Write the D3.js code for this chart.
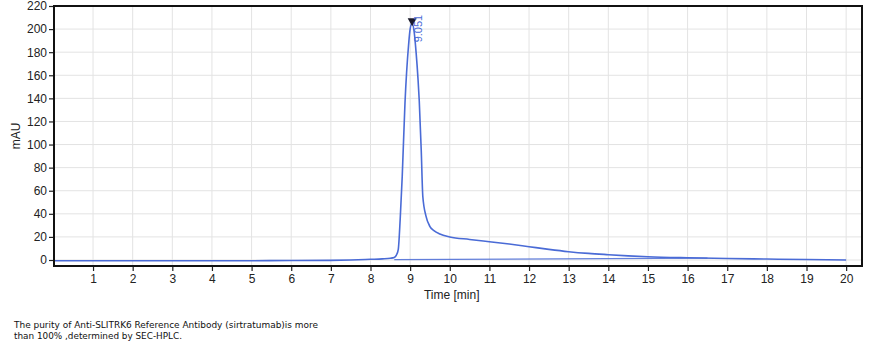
<!DOCTYPE html>
<html>
<head>
<meta charset="utf-8">
<script src="https://cdn.jsdelivr.net/npm/d3@7"></script>
<style>
  html, body { margin: 0; padding: 0; background: #fff; }
  svg { display: block; }
</style>
</head>
<body>
<svg id="chart" width="874" height="350"></svg>
<script>
// ---- data ----
const timeMin = [0, 1, 2, 3, 4, 5, 6, 7, 7.5, 8, 8.3, 8.5, 8.6, 8.65, 8.7, 8.75, 8.8, 8.87, 8.96, 9.0, 9.05, 9.1, 9.15, 9.2, 9.23, 9.28, 9.32, 9.4, 9.5, 9.6, 9.75, 10, 10.5, 11, 11.5, 12, 12.5, 13, 13.5, 14, 14.5, 15, 16, 17, 18, 19, 20];
const mAU     = [-0.6, -0.6, -0.6, -0.6, -0.6, -0.6, -0.5, -0.3, 0, 0.6, 1.0, 1.5, 2.2, 4, 9, 36, 72, 136, 186, 200, 205, 198, 180, 156, 138, 95, 55, 38, 29, 25.5, 22.5, 20, 17.8, 15.8, 13.8, 11.5, 9.2, 7.2, 5.7, 4.6, 3.6, 2.8, 1.9, 1.3, 0.8, 0.4, 0];
const baselineT = [8.6, 16.5];
const baselineV = [0.3, 1.6];
const xTicks = [1,2,3,4,5,6,7,8,9,10,11,12,13,14,15,16,17,18,19,20];
const yTicks = [0,20,40,60,80,100,120,140,160,180,200,220];
const peakTime = 9.051;
const peakValue = 205;
const peakLabel = "9.051";
const xTitle = "Time [min]";
const yTitle = "mAU";
const caption = ["The purity of Anti-SLITRK6 Reference Antibody (sirtratumab)is more",
                 "than 100% ,determined by SEC-HPLC."];

// ---- layout ----
const svg = d3.select("#chart");
const pL = 54, pR = 862, pT = 6, pB = 266;
const x = d3.scaleLinear().domain([0, 20.4]).range([pL - 0.6, pR]);
const y = d3.scaleLinear().domain([-5.2, 220]).range([pB, pT]);
const font = "'Liberation Sans', Arial, sans-serif";
const blue = "#4a6bd6";

// grid
const g = svg.append("g");
g.selectAll("line.vg").data(xTicks).enter().append("line")
  .attr("x1", d => x(d)).attr("x2", d => x(d))
  .attr("y1", pT).attr("y2", pB)
  .attr("stroke", "#e3e3e3").attr("stroke-width", 1);
g.selectAll("line.hg").data(yTicks).enter().append("line")
  .attr("x1", pL).attr("x2", pR)
  .attr("y1", d => y(d)).attr("y2", d => y(d))
  .attr("stroke", "#e3e3e3").attr("stroke-width", 1);

// axes
const xAxis = d3.axisBottom(x).tickValues(xTicks).tickSize(5).tickPadding(3).tickFormat(d3.format("d"));
const yAxis = d3.axisLeft(y).tickValues(yTicks).tickSize(5).tickPadding(2).tickFormat(d3.format("d"));
const gx = svg.append("g").attr("transform", `translate(0,${pB})`).call(xAxis);
const gy = svg.append("g").attr("transform", `translate(${pL},0)`).call(yAxis);
[gx, gy].forEach(a => {
  a.select(".domain").remove();
  a.selectAll("line").attr("stroke", "#222").attr("stroke-width", 1.2);
  a.selectAll("text").attr("font-family", font).attr("font-size", 12).attr("fill", "#222");
});

// trace
const line = d3.line().x((d, i) => x(timeMin[i])).y(d => y(d)).curve(d3.curveMonotoneX);
svg.append("path").datum(mAU).attr("d", line)
  .attr("fill", "none").attr("stroke", blue).attr("stroke-width", 1.6);

// integration baseline
svg.append("line")
  .attr("x1", x(baselineT[0])).attr("y1", y(baselineV[0]))
  .attr("x2", x(baselineT[1])).attr("y2", y(baselineV[1]))
  .attr("stroke", blue).attr("stroke-width", 1.2).attr("opacity", 0.85);

// frame
svg.append("rect").attr("x", pL).attr("y", pT)
  .attr("width", pR - pL).attr("height", pB - pT)
  .attr("fill", "none").attr("stroke", "#111").attr("stroke-width", 2);

// peak marker
const px = x(peakTime), py = y(peakValue) - 1;
svg.append("path")
  .attr("d", `M${px - 4.5},${py - 4} L${px + 4.5},${py - 4} L${px},${py + 4} Z`)
  .attr("fill", "#1a1a2a");
svg.append("text")
  .attr("transform", `translate(${px + 10},${py + 20}) rotate(-90)`)
  .attr("font-family", font).attr("font-size", 11).attr("fill", blue)
  .text(peakLabel);

// titles
svg.append("text").attr("x", (x(0) + x(20.4)) / 2 - 6).attr("y", 299)
  .attr("text-anchor", "middle").attr("font-family", font).attr("font-size", 12).attr("fill", "#222")
  .text(xTitle);
svg.append("text").attr("transform", `translate(20,${(pT + pB) / 2}) rotate(-90)`)
  .attr("text-anchor", "middle").attr("font-family", font).attr("font-size", 12).attr("fill", "#222")
  .text(yTitle);

// caption
svg.selectAll("text.cap").data(caption).enter().append("text")
  .attr("x", 14).attr("y", (d, i) => 328 + i * 11)
  .attr("font-family", "'DejaVu Sans Condensed', 'Liberation Sans Narrow', 'Liberation Sans', sans-serif")
  .attr("font-size", 9).attr("fill", "#111")
  .attr("textLength", (d, i) => i === 0 ? 304 : 168).attr("lengthAdjust", "spacingAndGlyphs")
  .text(d => d);
</script>
</body>
</html>
